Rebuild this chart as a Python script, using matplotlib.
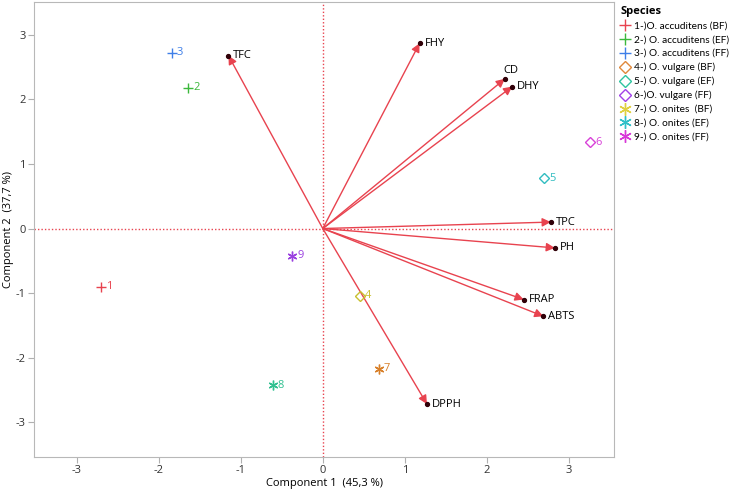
import matplotlib
matplotlib.use("Agg")
import matplotlib.pyplot as plt
from matplotlib.lines import Line2D
from matplotlib.patches import FancyArrowPatch

plt.rcParams['font.family'] = ['Open Sans', 'DejaVu Sans']
plt.rcParams['axes.unicode_minus'] = False

# Loadings (variables)
var_names = ["TFC", "FHY", "CD", "DHY", "TPC", "PH", "FRAP", "ABTS", "DPPH"]
var_x = [-1.15, 1.18, 2.22, 2.31, 2.78, 2.83, 2.45, 2.69, 1.27]
var_y = [2.68, 2.87, 2.32, 2.20, 0.10, -0.30, -1.10, -1.36, -2.72]

# Scores (samples)
sample_ids = ["1", "2", "3", "4", "5", "6", "7", "8", "9"]
score_x = [-2.70, -1.64, -1.84, 0.45, 2.70, 3.26, 0.68, -0.61, -0.37]
score_y = [-0.90, 2.18, 2.72, -1.04, 0.78, 1.34, -2.17, -2.43, -0.42]

species = ["1-)O. accuditens (BF)", "2-) O. accuditens (EF)", "3-) O. accuditens (FF)",
           "4-) O. vulgare (BF)", "5-) O. vulgare (EF)", "6-)O. vulgare (FF)",
           "7-) O. onites  (BF)", "8-) O. onites (EF)", "9-) O. onites (FF)"]
legend_colors = ["#e8434f", "#3cb83c", "#3e7fe8", "#e0883a", "#2fc4a0",
                 "#a040e8", "#e0d040", "#30c0c8", "#d838d8"]
point_colors = ["#e8434f", "#3cb83c", "#3e7fe8", "#c8c030", "#30bcc0",
                "#d840d8", "#d8802a", "#30c090", "#9a40e0"]
markers = ["+", "+", "+", "D", "D", "D", (6, 2, 0), (6, 2, 0), (6, 2, 0)]

red = "#e8434f"

fig = plt.figure(figsize=(7.30, 4.94), dpi=100)
ax = fig.add_axes([34/730, 37/494, 580/730, 455/494])
ax.set_xlim(-3.52, 3.55)
ax.set_ylim(-3.54, 3.51)

ax.axhline(0, color=red, ls=(0, (1, 1.5)), lw=1, zorder=1)
ax.axvline(0, color=red, ls=(0, (1, 1.5)), lw=1, zorder=1)

for name, x, y in zip(var_names, var_x, var_y):
    arr = FancyArrowPatch((0, 0), (x, y),
                          arrowstyle="-|>,head_length=0.6,head_width=0.3",
                          color=red, lw=1, mutation_scale=8.5,
                          shrinkA=0, shrinkB=0, zorder=3)
    ax.add_patch(arr)
    ax.plot(x, y, "o", color="#300008", ms=2.8, zorder=4)
    if name == "CD":
        ax.text(x - 0.02, y + 0.05, name, fontsize=8, ha="left", va="bottom")
    else:
        ax.text(x + 0.06, y, name, fontsize=8, ha="left", va="center")

for i, (sid, x, y) in enumerate(zip(sample_ids, score_x, score_y)):
    m = markers[i]
    if m == "D":
        ax.plot(x, y, marker="D", ms=5, mfc="none", mec=point_colors[i], mew=1, zorder=5)
    else:
        ax.plot(x, y, marker=m, ms=7, color=point_colors[i], mew=1, zorder=5)
    ax.text(x + 0.06, y, sid, fontsize=8, color=point_colors[i], ha="left", va="center")

ax.set_xticks([-3, -2, -1, 0, 1, 2, 3])
ax.set_yticks([-3, -2, -1, 0, 1, 2, 3])
ax.tick_params(colors="#333333", labelsize=8, length=4, width=0.8, pad=2)
ax.tick_params(axis="both", color="#b0b0b0")
for s in ax.spines.values():
    s.set_color("#b8b8b8")
ax.set_xlabel("Component 1  (45,3 %)", fontsize=8, labelpad=1)
ax.set_ylabel("Component 2  (37,7 %)", fontsize=8, labelpad=1)

handles = []
for i in range(9):
    m = markers[i]
    if m == "D":
        h = Line2D([], [], ls="none", marker="D", ms=6, mfc="none",
                   mec=legend_colors[i], mew=1)
    else:
        h = Line2D([], [], ls="none", marker=m, ms=9, color=legend_colors[i], mew=1)
    handles.append(h)
leg = fig.legend(handles, species, loc="upper left", bbox_to_anchor=(614/730, 1.0),
                 frameon=False, title="Species", handlelength=1.0,
                 handletextpad=0.35, labelspacing=0.45, borderaxespad=0.2,
                 prop={"family": ["Lato", "DejaVu Sans"], "size": 7.3})
leg.get_title().set_fontweight("bold")
leg.get_title().set_fontsize(8)
leg.get_title().set_family(["Open Sans", "DejaVu Sans"])
leg._legend_box.align = "left"

fig.savefig("out.png", dpi=100)
